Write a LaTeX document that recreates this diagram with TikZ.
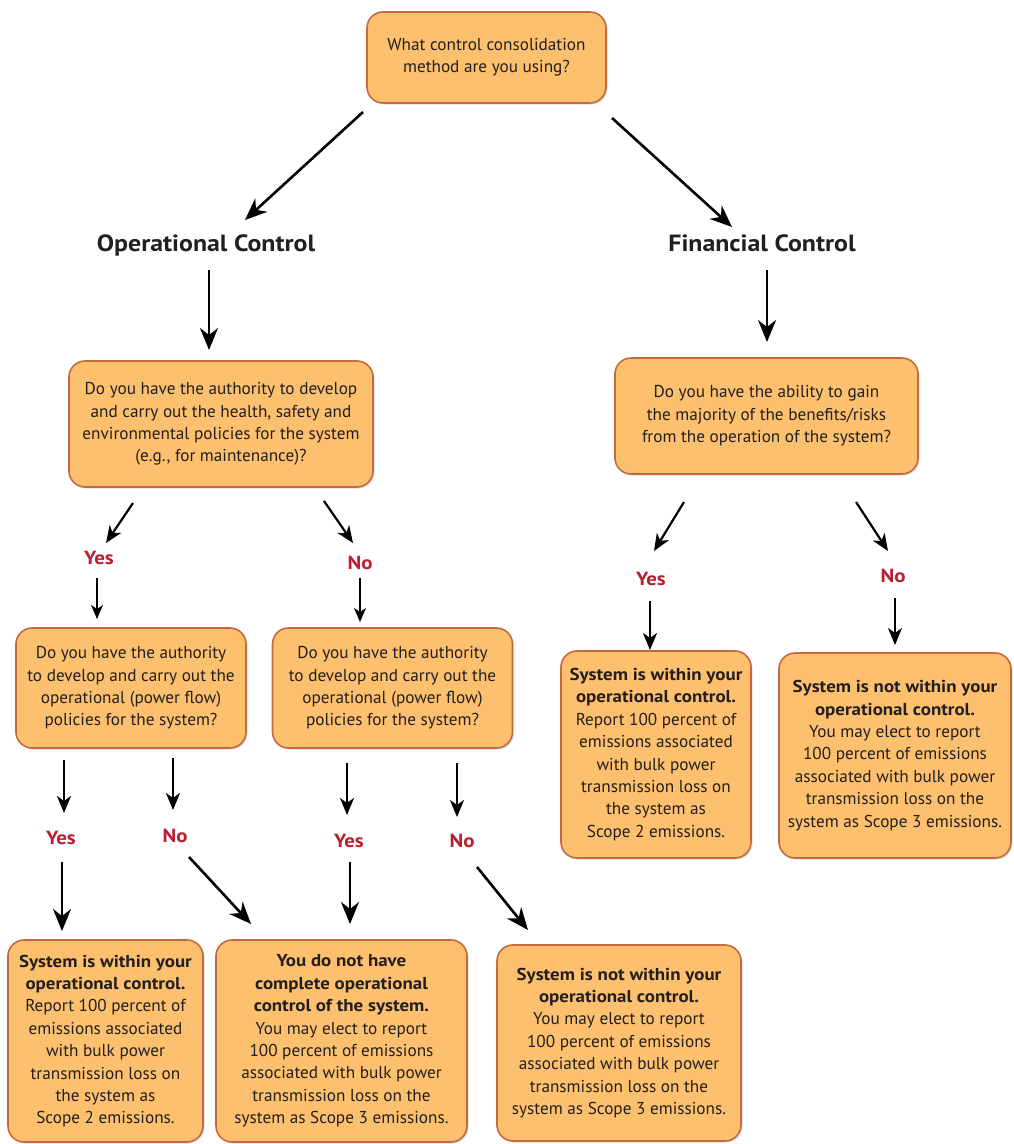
\documentclass[tikz,border=0pt]{standalone}
\usepackage{fontspec}
\setmainfont{PT Sans}[BoldFeatures={FakeStretch=1.1}]
\usetikzlibrary{arrows.meta,shadows}
\definecolor{boxfill}{RGB}{252,192,110}
\definecolor{boxline}{RGB}{196,106,62}
\definecolor{lblred}{RGB}{186,30,48}
\definecolor{txt}{RGB}{35,31,32}
\begin{document}
\begin{tikzpicture}[x=1pt,y=-1pt,
  fbox/.style={draw=boxline, line width=1.6pt, fill=boxfill, rounded corners=16pt,
    align=center, text=txt, font=\fontsize{17.2}{22.4}\selectfont, inner sep=0pt,
    drop shadow={opacity=0.25, shadow xshift=1.5pt, shadow yshift=-1.5pt}},
  head/.style={font=\bfseries\fontsize{23.5}{26}\selectfont, text=txt, inner sep=0pt},
  lbl/.style={font=\bfseries\fontsize{19}{22}\selectfont, text=lblred, inner sep=0pt},
  arrbig/.style={line width=2.6pt, -{Stealth[length=22pt,width=18pt,inset=7pt]}},
  arrmid/.style={line width=2.2pt, -{Stealth[length=17pt,width=14pt,inset=5pt]}},
  arrsmall/.style={line width=1.8pt, -{Stealth[length=14pt,width=12pt,inset=4pt]}}
]
\useasboundingbox (0,0) rectangle (1013,1144);
\fill[white] (0,0) rectangle (1013,1144);

% boxes
\node[fbox, minimum width=239pt, minimum height=91pt] (top) at (486.5,57.5)
  {What control consolidation\\method are you using?};
\node[fbox, minimum width=304pt, minimum height=126pt] (q1l) at (221,424)
  {Do you have the authority to develop\\and carry out the health, safety and\\environmental policies for the system\\(e.g., for maintenance)?};
\node[fbox, minimum width=303pt, minimum height=116pt] (q1r) at (766.5,416)
  {Do you have the ability to gain\\the majority of the benefits/risks\\from the operation of the system?};
\node[fbox, minimum width=230pt, minimum height=120pt] (q2l) at (131,688)
  {Do you have the authority\\to develop and carry out the\\operational (power flow)\\policies for the system?};
\node[fbox, minimum width=240pt, minimum height=120pt] (q2r) at (392.5,688)
  {Do you have the authority\\to develop and carry out the\\operational (power flow)\\policies for the system?};
\node[fbox, minimum width=190pt, minimum height=207pt] (finl) at (656,754.5)
  {\textbf{System is within your}\\\textbf{operational control.}\\Report 100 percent of\\emissions associated\\with bulk power\\transmission loss on\\the system as\\Scope 2 emissions.};
\node[fbox, minimum width=232pt, minimum height=205pt] (finr) at (895,755.5)
  {\textbf{System is not within your}\\\textbf{operational control.}\\You may elect to report\\100 percent of emissions\\associated with bulk power\\transmission loss on the\\system as Scope 3 emissions.};
\node[fbox, minimum width=195pt, minimum height=202pt] (ba) at (105.5,1041)
  {\textbf{System is within your}\\\textbf{operational control.}\\Report 100 percent of\\emissions associated\\with bulk power\\transmission loss on\\the system as\\Scope 2 emissions.};
\node[fbox, minimum width=251pt, minimum height=202pt] (bb) at (341.5,1041)
  {\textbf{You do not have}\\\textbf{complete operational}\\\textbf{control of the system.}\\You may elect to report\\100 percent of emissions\\associated with bulk power\\transmission loss on the\\system as Scope 3 emissions.};
\node[fbox, minimum width=244pt, minimum height=196pt] (bc) at (619,1043)
  {\textbf{System is not within your}\\\textbf{operational control.}\\You may elect to report\\100 percent of emissions\\associated with bulk power\\transmission loss on the\\system as Scope 3 emissions.};

% headings
\node[head] (op) at (206,245) {Operational Control};
\node[head] (fin) at (762,243) {Financial Control};

% labels
\node[lbl] (y1) at (99,558) {Yes};
\node[lbl] (n1) at (360,563) {No};
\node[lbl] (y2) at (651,579) {Yes};
\node[lbl] (n2) at (893,576) {No};
\node[lbl] (y3) at (61,838) {Yes};
\node[lbl] (n3) at (175,836) {No};
\node[lbl] (y4) at (349,841) {Yes};
\node[lbl] (n4) at (462,841) {No};

% arrow end points
\coordinate (a1s) at (363,112);  \coordinate (a1e) at (245,220);
\coordinate (a2s) at (612,118);  \coordinate (a2e) at (732,227);
\coordinate (a3s) at (209,270);  \coordinate (a3e) at (209,350);
\coordinate (a4s) at (767,270);  \coordinate (a4e) at (767,342);
\coordinate (b1s) at (133,503);  \coordinate (b1e) at (106,543);
\coordinate (b2s) at (324,501);  \coordinate (b2e) at (353,543);
\coordinate (b3s) at (97,578);   \coordinate (b3e) at (97,619);
\coordinate (b4s) at (360,578);  \coordinate (b4e) at (360,622);
\coordinate (c1s) at (684,502);  \coordinate (c1e) at (654,551);
\coordinate (c2s) at (856,502);  \coordinate (c2e) at (888,551);
\coordinate (c3s) at (650,601);  \coordinate (c3e) at (650,650);
\coordinate (c4s) at (895,598);  \coordinate (c4e) at (895,645);
\coordinate (d1s) at (64,760);   \coordinate (d1e) at (64,813);
\coordinate (d2s) at (173,758);  \coordinate (d2e) at (173,810);
\coordinate (d3s) at (347,763);  \coordinate (d3e) at (347,815);
\coordinate (d4s) at (457,763);  \coordinate (d4e) at (457,817);
\coordinate (e1s) at (62,862);   \coordinate (e1e) at (62,931);
\coordinate (e2s) at (189,857);  \coordinate (e2e) at (251,924);
\coordinate (e3s) at (350,862);  \coordinate (e3e) at (350,924);
\coordinate (e4s) at (477,867);  \coordinate (e4e) at (528,930);

% arrows
\draw[arrbig] (a1s) -- (a1e);
\draw[arrbig] (a2s) -- (a2e);
\draw[arrbig] (a3s) -- (a3e);
\draw[arrbig] (a4s) -- (a4e);
\draw[arrmid] (b1s) -- (b1e);
\draw[arrmid] (b2s) -- (b2e);
\draw[arrsmall] (b3s) -- (b3e);
\draw[arrsmall] (b4s) -- (b4e);
\draw[arrmid] (c1s) -- (c1e);
\draw[arrmid] (c2s) -- (c2e);
\draw[arrmid] (c3s) -- (c3e);
\draw[arrmid] (c4s) -- (c4e);
\draw[arrmid] (d1s) -- (d1e);
\draw[arrmid] (d2s) -- (d2e);
\draw[arrmid] (d3s) -- (d3e);
\draw[arrmid] (d4s) -- (d4e);
\draw[arrbig] (e1s) -- (e1e);
\draw[arrbig] (e2s) -- (e2e);
\draw[arrbig] (e3s) -- (e3e);
\draw[arrbig] (e4s) -- (e4e);
\end{tikzpicture}
\end{document}
